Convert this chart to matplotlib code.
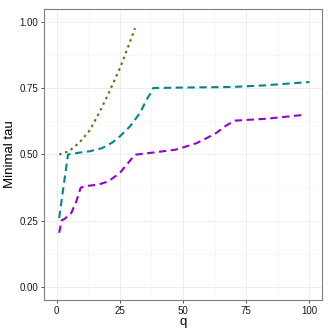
import matplotlib
matplotlib.use("Agg")
import matplotlib.pyplot as plt
from matplotlib.ticker import MultipleLocator

plt.rcParams['font.family'] = ['Liberation Sans', 'DejaVu Sans']

# green dotted curve
q_green = [1, 5, 9, 13, 17, 21, 25, 28, 31]
tau_green = [0.50, 0.513, 0.545, 0.59, 0.66, 0.74, 0.825, 0.90, 0.977]

# teal dashed curve
q_teal = [1, 4.5, 9, 13, 18, 22, 25, 29, 33, 35.6, 37.6, 38.2, 50, 69, 82, 100]
tau_teal = [0.26, 0.50, 0.507, 0.512, 0.524, 0.545, 0.568, 0.606, 0.657, 0.707,
            0.738, 0.751, 0.753, 0.755, 0.761, 0.774]

# purple dashed curve
q_purple = [1, 2, 3.2, 5.8, 7.8, 9.5, 11, 16.4, 20.4, 25, 28, 31, 37, 42, 47,
            51.5, 55.4, 59.4, 63.4, 67, 70.6, 83, 98]
tau_purple = [0.204, 0.251, 0.257, 0.279, 0.323, 0.374, 0.38, 0.386, 0.398, 0.43,
              0.465, 0.499, 0.506, 0.512, 0.518, 0.531, 0.543, 0.562, 0.583,
              0.609, 0.628, 0.635, 0.65]

fig = plt.figure(figsize=(3.32, 3.32), dpi=100)
ax = fig.add_axes([0.1325, 0.0964, 0.8375, 0.8766])

ax.plot(q_green, tau_green, color='#4f7a1a', lw=1.5, dashes=(1.2, 1.8))
ax.plot(q_teal, tau_teal, color='#00868b', lw=1.5, dashes=(3.5, 2.2))
ax.plot(q_purple, tau_purple, color='#9400d3', lw=1.5, dashes=(3.5, 2.2))

ax.set_xlim(-5, 105)
ax.set_ylim(-0.05, 1.05)
ax.xaxis.set_major_locator(MultipleLocator(25))
ax.xaxis.set_minor_locator(MultipleLocator(12.5))
ax.yaxis.set_major_locator(MultipleLocator(0.25))
ax.yaxis.set_minor_locator(MultipleLocator(0.125))
ax.set_yticklabels([f"{v:.2f}" for v in ax.get_yticks()])

ax.grid(True, which='major', color='#ebebeb', lw=0.6)
ax.grid(True, which='minor', color='#f4f4f4', lw=0.4)
ax.set_axisbelow(True)
for s in ax.spines.values():
    s.set_color('#7f7f7f')
    s.set_linewidth(0.8)
ax.tick_params(which='major', length=2.5, width=0.6, color='#333333',
               labelsize=7, labelcolor='#1a1a1a', pad=1.5)
ax.tick_params(which='minor', length=0)

ax.set_xlabel('q', fontsize=9.5, labelpad=0)
ax.set_ylabel('Minimal tau', fontsize=9.5, labelpad=3)

fig.savefig('out.png', dpi=100)
